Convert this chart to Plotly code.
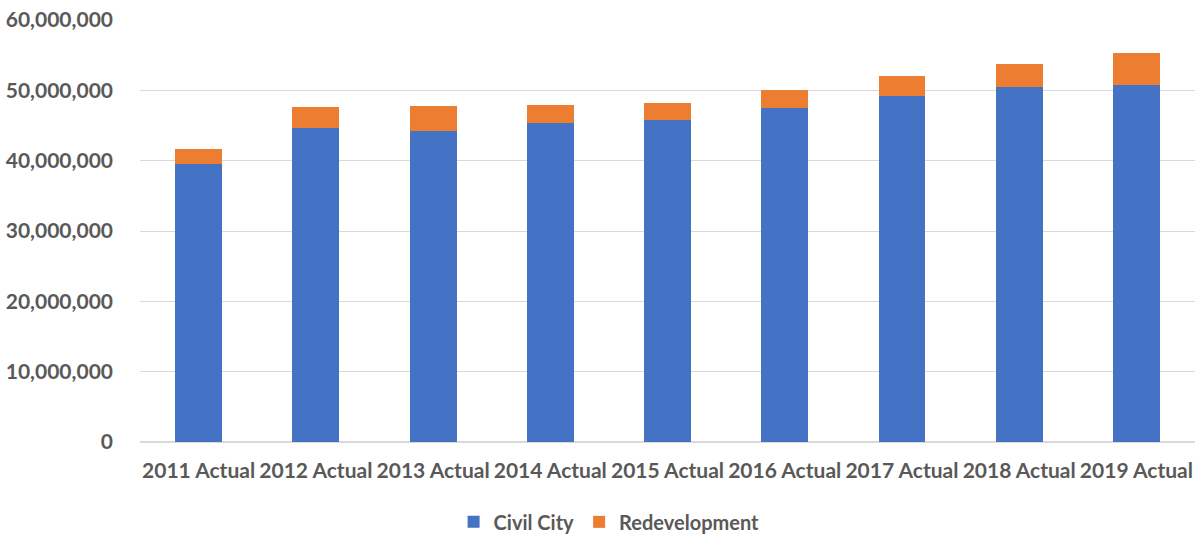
import plotly.graph_objects as go

categories = ["2011 Actual", "2012 Actual", "2013 Actual", "2014 Actual", "2015 Actual",
              "2016 Actual", "2017 Actual", "2018 Actual", "2019 Actual"]
civil_city = [39580000, 44620000, 44250000, 45380000, 45800000,
              47500000, 49150000, 50420000, 50800000]
redevelopment = [2120000, 2970000, 3490000, 2590000, 2410000,
                 2500000, 2830000, 3350000, 4480000]

FONT = "Lato"
GREY = "#595959"

fig = go.Figure()
fig.add_trace(go.Bar(x=categories, y=civil_city, name="Civil City",
                     marker=dict(color="#4472C4", line=dict(width=0))))
fig.add_trace(go.Bar(x=categories, y=redevelopment, name="Redevelopment",
                     marker=dict(color="#ED7D31", line=dict(width=0))))

fig.update_layout(
    barmode="stack",
    bargap=0.6,
    width=1199, height=538,
    margin=dict(l=140, r=4, t=20, b=96, autoexpand=False),
    paper_bgcolor="white", plot_bgcolor="white",
    font=dict(family=FONT, color=GREY, size=20),
    showlegend=True,
    legend=dict(orientation="h", traceorder="normal",
                x=0.508, xanchor="center", xref="container",
                y=0.03, yanchor="middle", yref="container",
                font=dict(family=FONT, size=20, color=GREY, weight="bold"),
                itemwidth=30),
    xaxis=dict(showgrid=False, showline=True, linecolor="#D9D9D9", linewidth=1,
               ticks="", ticklabelstandoff=10, automargin=False,
               tickfont=dict(family=FONT, size=21, color=GREY, weight="bold")),
    yaxis=dict(range=[0, 60000000], dtick=10000000, tickformat=",d",
               showgrid=True, gridcolor="#D9D9D9", gridwidth=1,
               zeroline=True, zerolinecolor="#D9D9D9",
               showline=False, ticks="", ticklabelstandoff=26, automargin=False,
               tickfont=dict(family=FONT, size=21, color=GREY, weight="bold")),
)

fig.write_html("out.html", config={"displayModeBar": False},
               post_script="document.body.style.margin='0';")
